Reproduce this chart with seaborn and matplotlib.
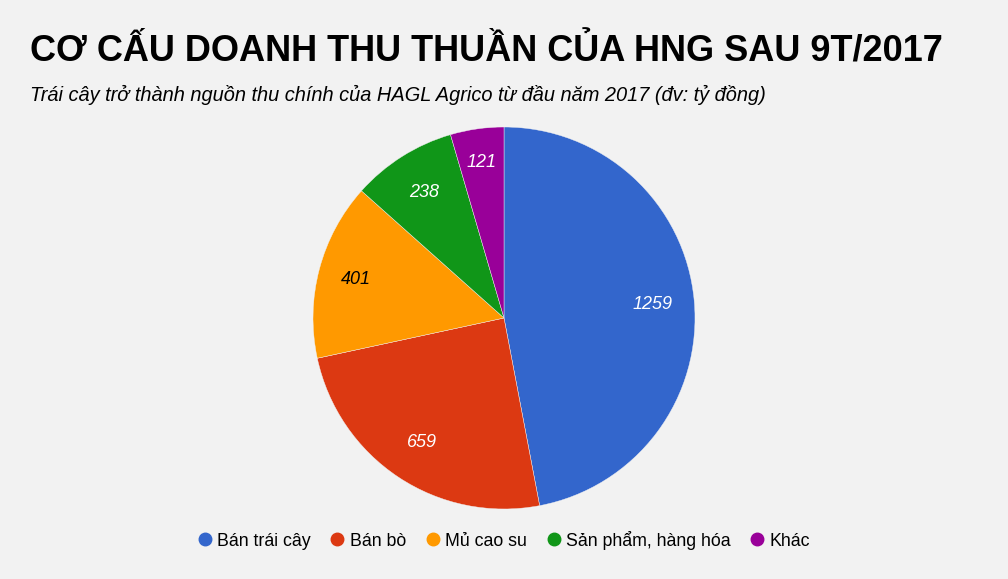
import matplotlib
matplotlib.use("Agg")
import numpy as np
import matplotlib.pyplot as plt
from matplotlib import font_manager
import seaborn as sns

categories = ["Bán trái cây", "Bán bò", "Mủ cao su", "Sản phẩm, hàng hóa", "Khác"]
values = [1259, 659, 401, 238, 121]
colors = ["#3366cc", "#dc3912", "#ff9900", "#109618", "#990099"]
label_colors = ["white", "white", "black", "white", "white"]
label_dist = [0.78, 0.78, 0.80, 0.78, 0.82]

title = "CƠ CẤU DOANH THU THUẦN CỦA HNG SAU 9T/2017"
subtitle = "Trái cây trở thành nguồn thu chính của HAGL Agrico từ đầu năm 2017 (đv: tỷ đồng)"

sns.set_style("white")
bg = "#f2f2f2"
avail = {f.name for f in font_manager.fontManager.ttflist}
base = "Liberation Sans" if "Liberation Sans" in avail else "DejaVu Sans"
plt.rcParams["font.family"] = [base, "DejaVu Sans"]
plt.rcParams["text.color"] = "black"

palette = sns.color_palette(colors)

fig = plt.figure(figsize=(10.08, 5.79), dpi=100, facecolor=bg)
W, H = 1008, 579
R = 191
cx, cy = 504, 318
ax = fig.add_axes([(cx - R) / W, 1 - (cy + R) / H, 2 * R / W, 2 * R / H])
ax.set_facecolor(bg)

wedges, texts = ax.pie(values, colors=palette, startangle=90, counterclock=False,
                       labels=[str(v) for v in values], labeldistance=0.78,
                       wedgeprops=dict(edgecolor=bg, linewidth=0.3),
                       textprops=dict(fontsize=13, style="italic"))
for w, t, c, d in zip(wedges, texts, label_colors, label_dist):
    ang = np.deg2rad((w.theta1 + w.theta2) / 2)
    t.set_position((d * np.cos(ang), d * np.sin(ang)))
    t.set_color(c)
    t.set_ha("center")
    t.set_va("center")
ax.set_aspect("equal")
ax.set_xlim(-1, 1)
ax.set_ylim(-1, 1)
ax.axis("off")

fig.text(30 / W, 1 - 62 / H, title, fontsize=26, fontweight="bold",
         ha="left", va="baseline", color="black")
fig.text(30 / W, 1 - 101 / H, subtitle, fontsize=14.4, style="italic", ha="left", va="baseline",
         color="black")

handles = [plt.Line2D([0], [0], marker="o", linestyle="none", markersize=9,
                      markerfacecolor=c, markeredgecolor=c) for c in palette]
leg = fig.legend(handles, categories, loc="center", bbox_to_anchor=(503 / W, 1 - 540 / H),
                 ncol=5, frameon=False, fontsize=12.8, handletextpad=0.2, columnspacing=1.0,
                 handlelength=1.0)
for t in leg.get_texts():
    t.set_color("black")

fig.savefig("out.png", dpi=100, facecolor=bg)
